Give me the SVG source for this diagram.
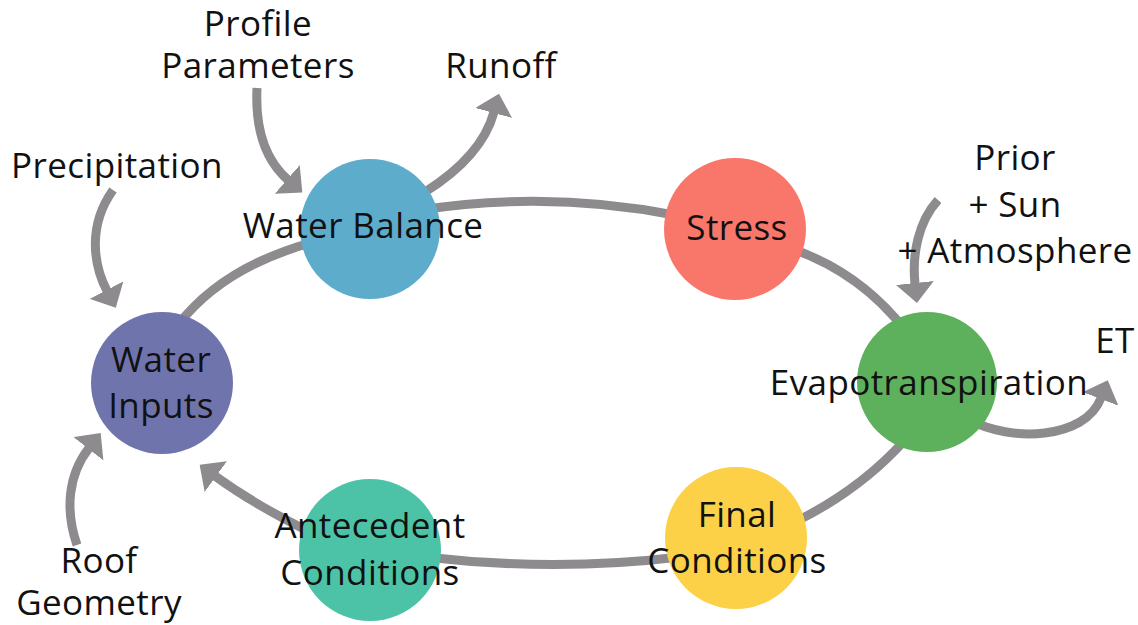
<svg xmlns="http://www.w3.org/2000/svg" width="1138" height="625" viewBox="0 0 1138 625">
  <style>
    .flow { fill: none; stroke: #8e8b8f; stroke-width: 9; }
    .arrow { marker-end: url(#head); }
    .label { font-family: "Open Sans", "Noto Sans", "DejaVu Sans", sans-serif; font-size: 35px; letter-spacing: 0.4px; fill: #111111; text-anchor: middle; }
  </style>
  <defs>
    <marker id="head" markerUnits="userSpaceOnUse" markerWidth="20" markerHeight="38" viewBox="0 0 20 38" refX="1" refY="19" orient="auto">
      <path d="M0,0 L20,19 L0,38 Z" fill="#8e8b8f"/>
    </marker>
  </defs>
  <rect width="1138" height="625" fill="#ffffff"/>

  <!-- cycle links and side flows -->
  <g id="connectors">
    <path class="flow" d="M178,325 Q222,268 310,243"/>
    <path class="flow" d="M420,210 Q550,190 680,216"/>
    <path class="flow" d="M790,248 Q860,272 905,330"/>
    <path class="flow" d="M905,440 Q860,490 795,522"/>
    <path class="flow" d="M680,557 Q555,572 425,557"/>
    <path class="flow arrow" d="M310,532 Q255,505 215,476"/>
    <path class="flow arrow" d="M113,190 C86,228 95,268 107,291"/>
    <path class="flow arrow" d="M257,88 C255,130 265,160 288,180"/>
    <path class="flow arrow" d="M425,192 C460,170 485,145 494,112"/>
    <path class="flow arrow" d="M938,200 C918,222 912,255 915,284"/>
    <path class="flow arrow" d="M970,420 C1010,442 1085,440 1101,398"/>
    <path class="flow arrow" d="M77,545 C65,510 68,475 89,448"/>
  </g>

  <g id="water-inputs">
    <circle cx="162" cy="383" r="71" fill="#7074ad"/>
    <text class="label" x="161" y="372">Water</text>
    <text class="label" x="161" y="418">Inputs</text>
  </g>
  <g id="water-balance">
    <circle cx="370" cy="229" r="70" fill="#5eaccb"/>
    <text class="label" x="363" y="238">Water Balance</text>
  </g>
  <g id="stress">
    <circle cx="735" cy="229" r="71" fill="#f9776a"/>
    <text class="label" x="737" y="240">Stress</text>
  </g>
  <g id="evapotranspiration">
    <circle cx="927" cy="382" r="70" fill="#5db05c"/>
    <text class="label" x="929" y="395">Evapotranspiration</text>
  </g>
  <g id="final-conditions">
    <circle cx="736" cy="538" r="71" fill="#fdd147"/>
    <text class="label" x="737" y="527">Final</text>
    <text class="label" x="737" y="573">Conditions</text>
  </g>
  <g id="antecedent-conditions">
    <circle cx="370" cy="550" r="71" fill="#4cc3a6"/>
    <text class="label" x="370" y="538">Antecedent</text>
    <text class="label" x="370" y="585">Conditions</text>
  </g>

  <g id="profile-parameters">
    <text class="label" x="258" y="36">Profile</text>
    <text class="label" x="258" y="78">Parameters</text>
  </g>
  <g id="runoff">
    <text class="label" x="501" y="78">Runoff</text>
  </g>
  <g id="precipitation">
    <text class="label" x="117" y="178">Precipitation</text>
  </g>
  <g id="prior-sun-atmosphere">
    <text class="label" x="1015" y="170">Prior</text>
    <text class="label" x="1015" y="217">+ Sun</text>
    <text class="label" x="1015" y="263">+ Atmosphere</text>
  </g>
  <g id="et">
    <text class="label" x="1115" y="353">ET</text>
  </g>
  <g id="roof-geometry">
    <text class="label" x="99" y="573">Roof</text>
    <text class="label" x="99" y="615">Geometry</text>
  </g>
</svg>
